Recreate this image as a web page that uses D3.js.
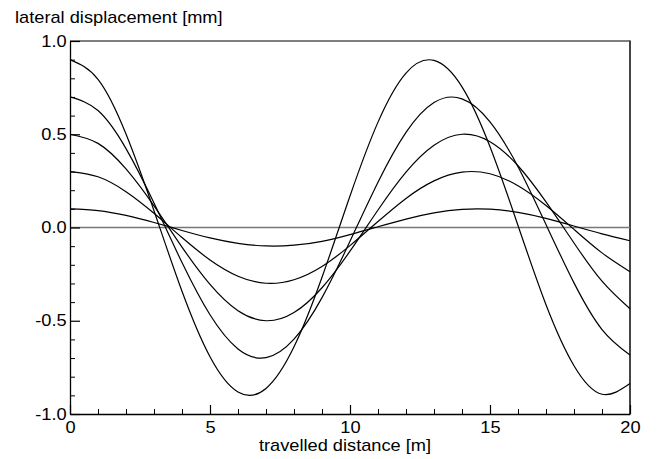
<!DOCTYPE html>
<html>
<head>
<meta charset="utf-8">
<script src="https://cdn.jsdelivr.net/npm/d3@7"></script>
<style>
  body { margin: 0; background: #fff; }
  svg { display: block; }
  text { font-family: "Liberation Sans", Arial, sans-serif; font-size: 16px; fill: #000; }
</style>
</head>
<body>
<svg></svg>
<script>
const width = 659;
const height = 459;

// travelled distance [m], sampled every metre
const distance = [0, 1, 2, 3, 4, 5, 6, 7, 8, 9, 10, 11, 12, 13, 14, 15, 16, 17, 18, 19, 20];

// lateral displacement [mm], one array per start amplitude
const start09 = [0.900, 0.794, 0.501, 0.090, -0.342, -0.693, -0.882, -0.863, -0.640, -0.267, 0.169,
  0.565, 0.828, 0.896, 0.754, 0.433, 0.011, -0.414, -0.741, -0.894, -0.837];
const start07 = [0.700, 0.627, 0.423, 0.131, -0.188, -0.468, -0.651, -0.698, -0.599, -0.376, -0.074,
  0.243, 0.510, 0.670, 0.690, 0.567, 0.326, 0.016, -0.297, -0.547, -0.684];
const start05 = [0.500, 0.451, 0.314, 0.116, -0.105, -0.305, -0.446, -0.500, -0.456, -0.323, -0.127,
  0.094, 0.297, 0.441, 0.500, 0.460, 0.331, 0.137, -0.083, -0.288, -0.436];
const start03 = [0.300, 0.272, 0.192, 0.076, -0.054, -0.174, -0.261, -0.299, -0.280, -0.209, -0.097,
  0.032, 0.156, 0.250, 0.297, 0.288, 0.224, 0.118, -0.010, -0.136, -0.237];
const start01 = [0.100, 0.091, 0.065, 0.027, -0.016, -0.056, -0.085, -0.099, -0.095, -0.074, -0.038,
  0.004, 0.045, 0.078, 0.097, 0.098, 0.081, 0.049, 0.008, -0.034, -0.071];

const series = [start09, start07, start05, start03, start01];

const xMajor = [0, 5, 10, 15, 20];
const xMinor = [1, 2, 3, 4, 6, 7, 8, 9, 11, 12, 13, 14, 16, 17, 18, 19];
const yMajor = [-1.0, -0.5, 0.0, 0.5, 1.0];
const yMinor = [-0.9, -0.8, -0.7, -0.6, -0.4, -0.3, -0.2, -0.1, 0.1, 0.2, 0.3, 0.4, 0.6, 0.7, 0.8, 0.9];

const xTitle = "travelled distance [m]";
const yTitle = "lateral displacement [mm]";

// the reference lettering is a bit wider than Arial
const stretch = "scale(1.14,1)";

const svg = d3.select("svg")
  .attr("width", width)
  .attr("height", height);

svg.append("rect")
  .attr("width", width)
  .attr("height", height)
  .attr("fill", "#fff");

const x = d3.scaleLinear().domain([0, 20]).range([70, 630]);
const y = d3.scaleLinear().domain([-1, 1]).range([414, 41]);

// frame: top and right in grey
svg.append("line")
  .attr("x1", x(0)).attr("x2", x(20))
  .attr("y1", y(1)).attr("y2", y(1))
  .attr("stroke", "#555").attr("stroke-width", 1.3);
svg.append("line")
  .attr("x1", x(20)).attr("x2", x(20))
  .attr("y1", y(1) - 0.6).attr("y2", y(-1))
  .attr("stroke", "#444").attr("stroke-width", 2);

// zero line
svg.append("line")
  .attr("x1", x(0)).attr("x2", x(20))
  .attr("y1", y(0)).attr("y2", y(0))
  .attr("stroke", "#777").attr("stroke-width", 1.3);

// curves
const line = d3.line()
  .x((d, i) => x(distance[i]))
  .y(d => y(d))
  .curve(d3.curveNatural);

svg.selectAll("path.curve")
  .data(series)
  .join("path")
  .attr("class", "curve")
  .attr("d", line)
  .attr("fill", "none")
  .attr("stroke", "#000")
  .attr("stroke-width", 1.2);

// minor ticks
svg.append("g")
  .attr("transform", `translate(0,${y(-1)})`)
  .call(d3.axisBottom(x).tickValues(xMinor).tickSizeInner(-5).tickSizeOuter(0).tickFormat(""))
  .call(g => g.select(".domain").remove());

svg.append("g")
  .attr("transform", `translate(${x(0)},0)`)
  .call(d3.axisLeft(y).tickValues(yMinor).tickSizeInner(-5).tickSizeOuter(0).tickFormat(""))
  .call(g => g.select(".domain").remove());

// major ticks with labels (plain hyphen for negatives, as in the reference)
const fmtY = d => d3.format(".1f")(d).replace("\u2212", "-");

const xAxis = svg.append("g")
  .attr("transform", `translate(0,${y(-1)})`)
  .call(d3.axisBottom(x).tickValues(xMajor).tickSizeInner(-9).tickSizeOuter(0).tickPadding(7.5)
    .tickFormat(d3.format("d")));

const yAxis = svg.append("g")
  .attr("transform", `translate(${x(0)},0)`)
  .call(d3.axisLeft(y).tickValues(yMajor).tickSizeInner(-10).tickSizeOuter(0).tickPadding(3)
    .tickFormat(fmtY));

[xAxis, yAxis].forEach(function(g) {
  g.attr("font-family", null).attr("font-size", null);
  g.select(".domain").attr("stroke", "#000").attr("stroke-width", 1.3);
  g.selectAll(".tick line").attr("stroke", "#000").attr("stroke-width", 1.2);
  g.selectAll(".tick text").attr("transform", stretch);
});

// axis titles
svg.append("text")
  .attr("transform", `translate(15,23) ${stretch}`)
  .attr("text-anchor", "start")
  .text(yTitle);

svg.append("text")
  .attr("transform", `translate(345,451) ${stretch}`)
  .attr("text-anchor", "middle")
  .text(xTitle);
</script>
</body>
</html>
